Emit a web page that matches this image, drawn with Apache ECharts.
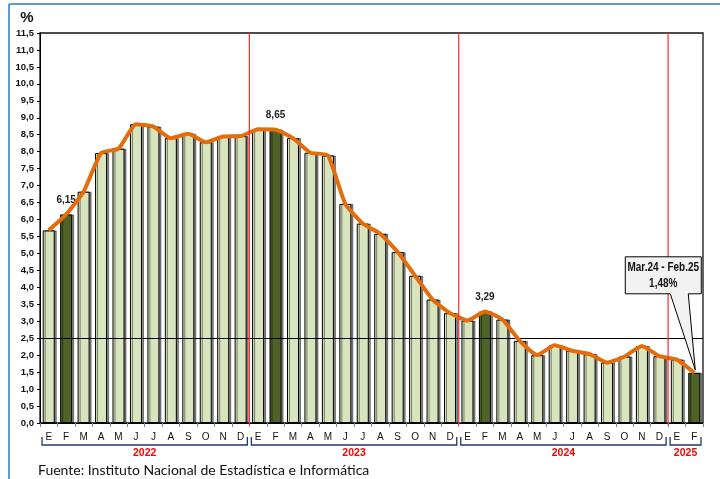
<!DOCTYPE html>
<html><head><meta charset="utf-8">
<script src="https://cdn.jsdelivr.net/npm/echarts@6/dist/echarts.min.js"></script>
<style>html,body{margin:0;padding:0;background:#fff}#c{width:720px;height:479px}</style>
</head><body><div id="c"></div><script>
const months = ['E','F','M','A','M','J','J','A','S','O','N','D',
                'E','F','M','A','M','J','J','A','S','O','N','D',
                'E','F','M','A','M','J','J','A','S','O','N','D',
                'E','F'];
const inflation = [5.68,6.15,6.82,7.96,8.09,8.81,8.74,8.40,8.53,8.28,8.45,8.46,
                   8.66,8.65,8.40,7.97,7.89,6.46,5.88,5.58,5.04,4.34,3.64,3.24,
                   3.02,3.29,3.05,2.42,2.00,2.29,2.13,2.03,1.78,1.96,2.27,1.97,
                   1.87,1.48];
const highlighted = [1, 13, 25, 37];
const labelled = [1, 13, 25];
const years = ['2022','2023','2024','2025'];
const yearStart = [0, 12, 24, 36];
const yearEnd = [11, 23, 35, 37];
const targetMax = 2.5;
const calloutPeriod = 'Mar.24 - Feb.25';
const calloutValue = '1,48%';
const source = 'Fuente: Instituto Nacional de Estadística e Informática';

const fmt = v => v.toFixed(2).replace('.', ',');
const chart = echarts.init(document.getElementById('c'), null, {renderer: 'canvas'});

const barData = inflation.map((v, i) => {
  const hi = highlighted.includes(i);
  return {
    value: v,
    itemStyle: {color: hi ? '#4F6228' : '#D7E4BD'},
    label: labelled.includes(i) ? {show: true, position: 'top', distance: 9,
      formatter: () => fmt(v), fontFamily: 'Liberation Sans, Arial', fontWeight: 'bold',
      fontSize: 10, color: '#222'} : {show: false}
  };
});

chart.setOption({
  animation: false,
  grid: {left: 40, right: 17, top: 33, bottom: 56, show: true, borderColor: '#111', borderWidth: 1.3},
  xAxis: {
    type: 'category', data: months,
    axisLine: {lineStyle: {color: '#000', width: 1}},
    axisTick: {show: true, interval: 0, length: 4, lineStyle: {color: '#888'}},
    splitLine: {show: false},
    axisLabel: {interval: 0, margin: 9, fontSize: 10, color: '#111', fontFamily: 'Liberation Sans, Arial'}
  },
  yAxis: {
    type: 'value', min: 0, max: 11.5, interval: 0.5,
    axisLine: {show: true, lineStyle: {color: '#000'}},
    axisTick: {show: true, length: 3, lineStyle: {color: '#000'}},
    splitLine: {show: false},
    axisLabel: {margin: 6, fontSize: 9.5, fontWeight: 'bold', color: '#111',
      fontFamily: 'Liberation Sans, Arial', formatter: v => v.toFixed(1).replace('.', ',')}
  },
  series: [
    {
      type: 'bar', data: barData, barWidth: 12, z: 2,
      itemStyle: {borderColor: '#000', borderWidth: 1, shadowColor: 'rgba(0,0,0,0.45)', shadowOffsetX: 2, shadowBlur: 0},
      markLine: {
        silent: true, symbol: 'none', label: {show: false},
        lineStyle: {color: '#000', width: 1.2, type: 'solid'},
        data: [{yAxis: targetMax}]
      }
    },
    {
      type: 'line', data: inflation, symbol: 'none', smooth: 0.15, z: 5,
      lineStyle: {color: '#E46C0A', width: 4}
    }
  ]
});

function drawGraphics() {
  const px = i => chart.convertToPixel({xAxisIndex: 0}, i);
  const py = v => chart.convertToPixel({yAxisIndex: 0}, v);
  const w = px(1) - px(0);
  const top = py(11.5), bottom = py(0);
  const g = [];
  // frame
  g.push({type: 'line', shape: {x1: 9, y1: 4, x2: 720, y2: 4}, style: {stroke: '#5B9BD5', lineWidth: 2}, z: 10});
  g.push({type: 'line', shape: {x1: 9, y1: 4, x2: 9, y2: 479}, style: {stroke: '#5B9BD5', lineWidth: 2}, z: 10});
  // percent sign
  g.push({type: 'text', x: 27, y: 18, style: {text: '%', fontSize: 15, fontWeight: 'bold',
    fontFamily: 'Liberation Sans, Arial', fill: '#111', textAlign: 'center', textVerticalAlign: 'middle'}, z: 10});
  // red year separators
  yearStart.slice(1).forEach(i => {
    const x = px(i) - w / 2;
    g.push({type: 'rect', shape: {x: x - 0.6, y: top, width: 1.2, height: bottom - top + 2}, style: {fill: '#FF2A2A', stroke: null}, z: 50});
  });
  // brackets + year labels
  years.forEach((y, k) => {
    const l = px(yearStart[k]) - w / 2 + 2, r = px(yearEnd[k]) + w / 2 - 2;
    const yb = bottom + 22, yt = bottom + 14;
    g.push({type: 'polyline', shape: {points: [[l, yt], [l, yb], [r, yb], [r, yt]]},
      style: {stroke: '#1F3A70', lineWidth: 1.3, fill: null}, z: 10});
    g.push({type: 'text', x: (l + r) / 2, y: yb + 8, style: {text: y, fontSize: 10.5, fontWeight: 'bold',
      fontFamily: 'Liberation Sans, Arial', fill: '#FF0000', textAlign: 'center', textVerticalAlign: 'middle'}, z: 10});
  });
  // callout
  const last = inflation.length - 1;
  const tx = px(last) + 1, ty = py(inflation[last]) - 3;
  const bl = tx - 70, br = tx + 6, bt = ty - 113, bb = ty - 76;
  g.push({type: 'polygon', shape: {points: [[bl, bt], [br, bt], [br, bb], [tx - 7, bb], [tx, ty], [tx - 25, bb], [bl, bb]]},
    style: {fill: '#F2F2F2', stroke: '#000', lineWidth: 1}, z: 60});
  g.push({type: 'text', x: (bl + br) / 2, y: bt + 11, scaleX: 0.8, style: {text: calloutPeriod, fontSize: 12.5, fontWeight: 'bold',
    fontFamily: 'Liberation Sans, Arial', fill: '#111', textAlign: 'center', textVerticalAlign: 'middle'}, z: 61});
  g.push({type: 'text', x: (bl + br) / 2, y: bt + 27, scaleX: 0.8, style: {text: calloutValue, fontSize: 12.5, fontWeight: 'bold',
    fontFamily: 'Liberation Sans, Arial', fill: '#111', textAlign: 'center', textVerticalAlign: 'middle'}, z: 61});
  // source
  g.push({type: 'text', x: 38, y: 470, style: {text: source, fontSize: 14, fontFamily: 'Lato, Liberation Sans',
    fill: '#111', textAlign: 'left', textVerticalAlign: 'middle'}, z: 10});
  chart.setOption({graphic: g});
}
drawGraphics();
</script></body></html>
